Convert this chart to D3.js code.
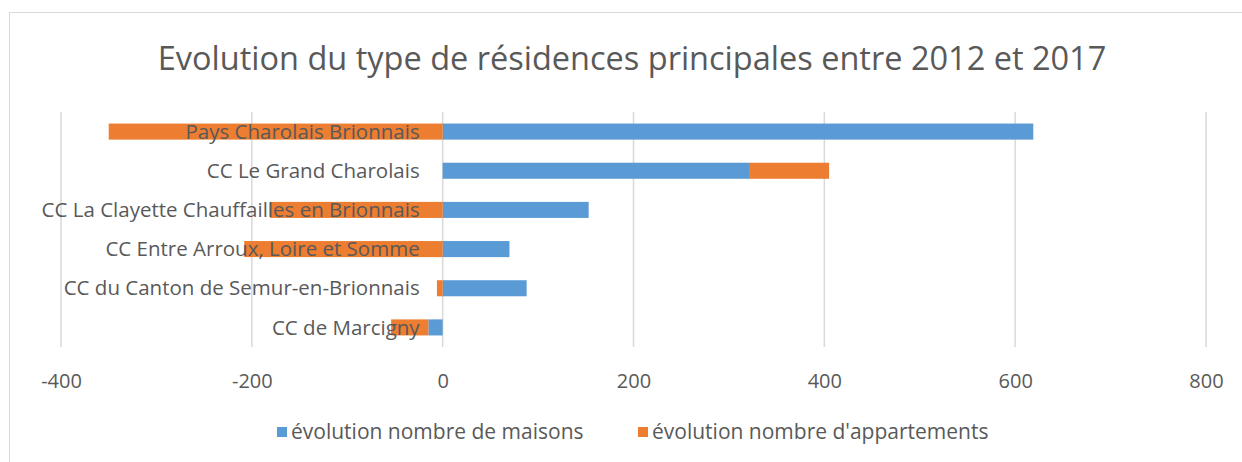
<!DOCTYPE html>
<html><head><meta charset="utf-8">
<script src="https://cdn.jsdelivr.net/npm/d3@7"></script>
<style>body{margin:0;background:#fff;}svg{display:block;}text{font-family:"Open Sans",sans-serif;fill:#595959;}</style>
</head><body><svg id="c" width="1242" height="462"></svg>
<script>
const categories = ["Pays Charolais Brionnais","CC Le Grand Charolais","CC La Clayette Chauffailles en Brionnais","CC Entre Arroux, Loire et Somme","CC du Canton de Semur-en-Brionnais","CC de Marcigny"];
const maisons = [619, 322, 153, 70, 88, -15];
const appartements = [-350, 83, -181, -208, -6, -39];
const xTicks = [-400, -200, 0, 200, 400, 600, 800];
const seriesNames = ["évolution nombre de maisons","évolution nombre d'appartements"];
const colors = ["#5B9BD5","#ED7D31"];
const title = "Evolution du type de résidences principales entre 2012 et 2017";

const svg = d3.select("#c");
svg.append("rect").attr("x",9.5).attr("y",12.5).attr("width",1300).attr("height",500).attr("fill","none").attr("stroke","#D9D9D9");

const x = d3.scaleLinear().domain([-400,800]).range([61,1206]);
const y = d3.scaleBand().domain(categories).range([112,347]).paddingInner(0.59).paddingOuter(0.295);

svg.append("text").attr("x",632).attr("y",70).attr("text-anchor","middle").attr("font-size",32.5).text(title);

// gridlines
svg.append("g").selectAll("line").data(xTicks).join("line")
  .attr("x1",d=>x(d)).attr("x2",d=>x(d)).attr("y1",112).attr("y2",347)
  .attr("stroke","#D9D9D9").attr("stroke-width",1.5);

// stacked bars (positives stack right, negatives stack left)
const rows = categories.map((c,i)=>({c, vals:[maisons[i], appartements[i]]}));
const segs = [];
rows.forEach(r=>{
  let pos=0, neg=0;
  r.vals.forEach((v,k)=>{
    let a,b;
    if(v>=0){a=pos;b=pos+v;pos=b;} else {a=neg;b=neg+v;neg=b;}
    segs.push({c:r.c,k,a,b});
  });
});
svg.append("g").selectAll("rect").data(segs).join("rect")
  .attr("x",d=>x(Math.min(d.a,d.b))).attr("width",d=>Math.abs(x(d.b)-x(d.a)))
  .attr("y",d=>y(d.c)).attr("height",y.bandwidth())
  .attr("fill",d=>colors[d.k]);

// category labels at zero line
svg.append("g").selectAll("text").data(categories).join("text")
  .attr("x",x(0)-23).attr("y",d=>y(d)+y.bandwidth()/2).attr("dy","0.35em")
  .attr("text-anchor","end").attr("font-size",20.5).text(d=>d);

// x axis labels
const ax = svg.append("g").attr("transform","translate(0,381)")
  .call(d3.axisBottom(x).tickValues(xTicks).tickSize(0).tickPadding(0).tickFormat(d=>String(d)));
ax.select(".domain").remove();
ax.selectAll("text").attr("font-size",20).attr("fill","#595959").attr("dy","0.35em").attr("y",0).style("font-family","'Open Sans',sans-serif");

// legend
const leg = svg.append("g");
const lx = [277, 638];
seriesNames.forEach((n,i)=>{
  leg.append("rect").attr("x",lx[i]).attr("y",427).attr("width",10).attr("height",10).attr("fill",colors[i]);
  leg.append("text").attr("x",lx[i]+14).attr("y",432).attr("dy","0.35em").attr("font-size",21).text(n);
});
</script></body></html>
